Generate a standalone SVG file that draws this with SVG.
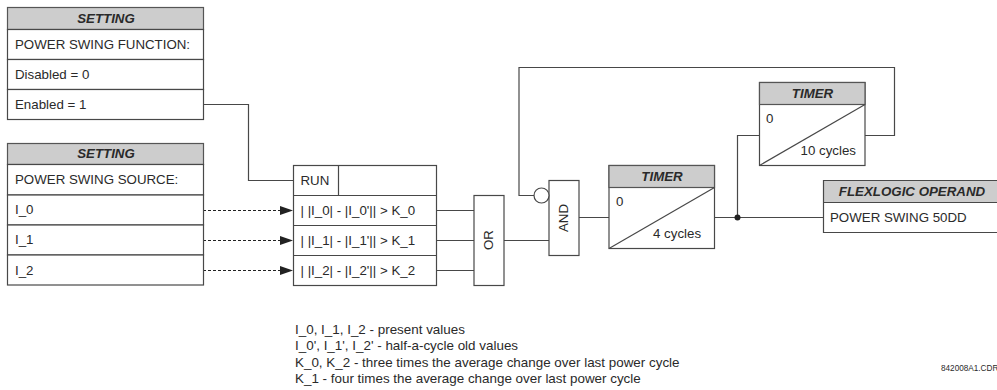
<svg xmlns="http://www.w3.org/2000/svg" width="997" height="390" viewBox="0 0 997 390">
<style>
text{font-family:"Liberation Sans",Arial,sans-serif;font-size:13.3px;fill:#2a2a2a}
.h{font-weight:bold;font-style:italic;text-anchor:middle}
.box{fill:#fff;stroke:#484848;stroke-width:1.2}
.head{fill:#cdcdcd;stroke:#555;stroke-width:1.2}
.ln{fill:none;stroke:#484848;stroke-width:1.2}
.wire{fill:none;stroke:#484848;stroke-width:1.2}
.dash{fill:none;stroke:#222;stroke-width:1;stroke-dasharray:3 2}
.note{font-size:13.42px}
.cdr{font-size:8.2px}
</style>
<defs><marker id="arrow" markerUnits="userSpaceOnUse" markerWidth="14" markerHeight="10" refX="13" refY="4.500" orient="auto"><path d="M0 0L13 4.500L0 9Z" fill="#222"/></marker></defs>
<g id="connectors">
<path class="wire" d="M203 104.500H248.500V180.500H293.500"/>
<path class="dash" d="M203 210.500H293" marker-end="url(#arrow)"/>
<path class="dash" d="M203 240.500H293" marker-end="url(#arrow)"/>
<path class="dash" d="M203 270.500H293" marker-end="url(#arrow)"/>
<path class="wire" d="M436 210.500H474M436 240.500H474M436 270.500H474M504 240.500H549M579 217.500H609M714.500 217.500H823.500M737.500 217.500V135.500H759.500"/>
<path class="wire" d="M534 195.500H519V67.500H894.500V135.500H865"/>
<circle cx="737.500" cy="217.500" r="3" fill="#222"/>
</g>
<g id="setting-function">
<rect class="head" x="7.500" y="7.500" width="196" height="22"/>
<rect class="box" x="7.500" y="29.500" width="196" height="30"/>
<rect class="box" x="7.500" y="59.500" width="196" height="30"/>
<rect class="box" x="7.500" y="89.500" width="196" height="30"/>
<text class="h" x="106" y="22.500">SETTING</text>
<text x="15" y="49">POWER SWING FUNCTION:</text>
<text x="15" y="79">Disabled = 0</text>
<text x="15" y="109">Enabled = 1</text>
</g>
<g id="setting-source">
<rect class="head" x="7.500" y="143.500" width="196" height="21"/>
<rect class="box" x="7.500" y="164.500" width="196" height="30.500"/>
<rect class="box" x="7.500" y="195" width="196" height="30"/>
<rect class="box" x="7.500" y="225" width="196" height="30"/>
<rect class="box" x="7.500" y="255" width="196" height="30"/>
<text class="h" x="106" y="158">SETTING</text>
<text x="15" y="184">POWER SWING SOURCE:</text>
<text x="15" y="214">I_0</text>
<text x="15" y="244">I_1</text>
<text x="15" y="275">I_2</text>
</g>
<g id="comparator">
<rect class="box" x="293.500" y="165.500" width="143" height="120"/>
<path class="ln" d="M338.500 165.500V195.500M293.500 195.500H436.500M293.500 225.500H436.500M293.500 255.500H436.500"/>
<text x="300.500" y="184.500">RUN</text>
<text x="300.500" y="215">| |I_0| - |I_0'|| &gt; K_0</text>
<text x="300.500" y="245">| |I_1| - |I_1'|| &gt; K_1</text>
<text x="300.500" y="275">| |I_2| - |I_2'|| &gt; K_2</text>
</g>
<g id="or-gate">
<rect class="box" x="474" y="195.500" width="30" height="90"/>
<text transform="translate(492.500 240) rotate(-90)" text-anchor="middle">OR</text>
</g>
<g id="and-gate">
<rect class="box" x="549" y="180.500" width="30" height="75"/>
<circle class="box" cx="541.500" cy="195.500" r="7.500"/>
<text transform="translate(568 218) rotate(-90)" text-anchor="middle">AND</text>
</g>
<g id="timer-1">
<rect class="box" x="609" y="165.500" width="105.500" height="83"/>
<rect class="head" x="609" y="165.500" width="105.500" height="22"/>
<path class="ln" d="M609 248.500L714.500 187.500"/>
<text class="h" x="662" y="180.500">TIMER</text>
<text x="616" y="206">0</text>
<text x="653" y="238">4 cycles</text>
</g>
<g id="timer-2">
<rect class="box" x="759.500" y="82.500" width="105.500" height="83"/>
<rect class="head" x="759.500" y="82.500" width="105.500" height="22"/>
<path class="ln" d="M759.500 165.500L865 104.500"/>
<text class="h" x="812.500" y="97.500">TIMER</text>
<text x="766" y="123">0</text>
<text x="800.500" y="155">10 cycles</text>
</g>
<g id="flexlogic-operand">
<path d="M997 180.500H823.500V202.500H997Z" fill="#cdcdcd"/>
<path class="ln" d="M997 180.500H823.500V232.500H997M823.500 202.500H997"/>
<text class="h" x="912" y="195.500">FLEXLOGIC OPERAND</text>
<text x="830" y="222">POWER SWING 50DD</text>
</g>
<g id="notes">
<text class="note" x="295" y="334">I_0, I_1, I_2 - present values</text>
<text class="note" x="295" y="350">I_0', I_1', I_2' - half-a-cycle old values</text>
<text class="note" x="295" y="366.500">K_0, K_2 - three times the average change over last power cycle</text>
<text class="note" x="295" y="382.500">K_1 - four times the average change over last power cycle</text>
<text class="cdr" x="941" y="371">842008A1.CDR</text>
</g>
</svg>
